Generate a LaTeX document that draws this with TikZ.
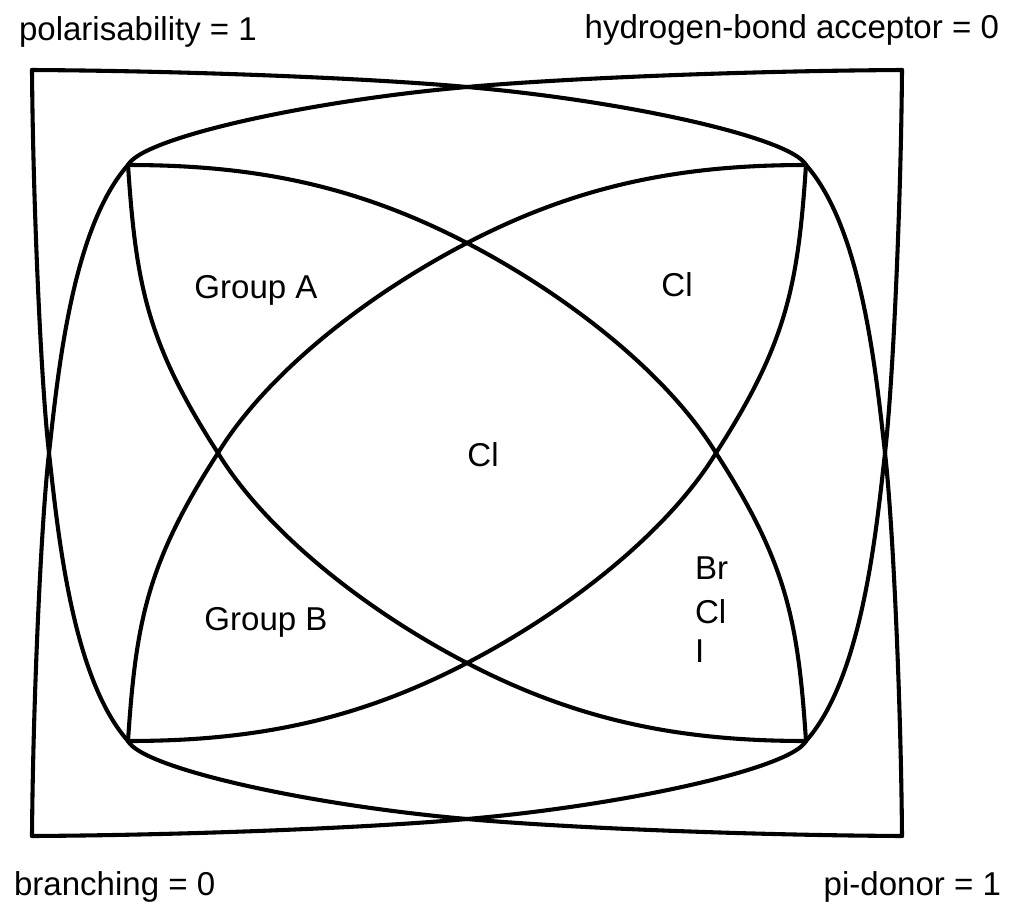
\documentclass[tikz,border=0pt]{standalone}
\usepackage{fontspec}
\setmainfont{Liberation Sans}
\newcommand\vennquarter{%
  \draw (-435,-383) .. controls (-267,-382) and (-87,-374) .. (0,-366);
  \draw (-339,-288) .. controls (-325,-315) and (-160,-352) .. (0,-366);
  \draw (-435,-383) .. controls (-434,-250) and (-426,-70) .. (-418,0);
  \draw (-418,0) .. controls (-409,-80) and (-395,-225) .. (-339,-288);
  \draw (-339,-288) .. controls (-219,-288) and (-115,-270) .. (0,-210);
  \draw (-339,-288) .. controls (-331,-168) and (-320,-110) .. (-249,0);
  \draw (0,-210) .. controls (-100,-158) and (-200,-80) .. (-249,0);
}
\begin{document}
\begin{tikzpicture}[x=0.025cm,y=-0.025cm,line width=2.9pt,line join=round,line cap=round,
  lbl/.style={font=\fontsize{23.5}{28}\selectfont,inner sep=0pt}]
\useasboundingbox (0,0) rectangle (1009,902);
\begin{scope}[shift={(467,453)}] \vennquarter \end{scope}
\begin{scope}[shift={(467,453)},xscale=-1] \vennquarter \end{scope}
\begin{scope}[shift={(467,453)},yscale=-1] \vennquarter \end{scope}
\begin{scope}[shift={(467,453)},xscale=-1,yscale=-1] \vennquarter \end{scope}
\node[lbl,anchor=base west] (pol) at (17,40) {polarisability = 1};
\node[lbl,anchor=base east] (hba) at (1001,38) {hydrogen-bond acceptor = 0};
\node[lbl,anchor=base west] (bra) at (12,895) {branching = 0};
\node[lbl,anchor=base east] (pid) at (1003,895) {pi-donor = 1};
\node[lbl] (ga) at (256,290) {Group A};
\node[lbl] (gb) at (266,622) {Group B};
\node[lbl] (cl1) at (677,285) {Cl};
\node[lbl] (cl2) at (483,455) {Cl};
\node[lbl,anchor=base west] (br) at (693,579) {Br};
\node[lbl,anchor=base west] (cl3) at (693,623) {Cl};
\node[lbl,anchor=base west] (io) at (693,662) {I};
\end{tikzpicture}
\end{document}
